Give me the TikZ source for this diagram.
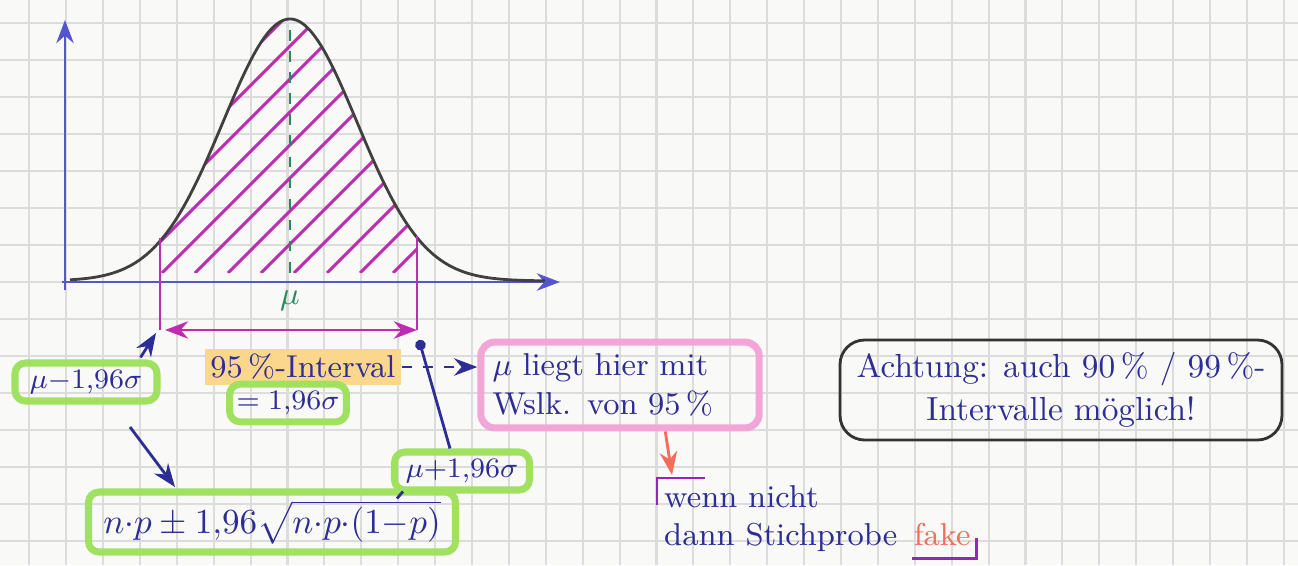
\documentclass[tikz,border=0pt]{standalone}
\usepackage{tikz}
\usetikzlibrary{calc,positioning,arrows.meta,shapes}
\definecolor{ink}{RGB}{45,45,150}
\definecolor{axisblue}{RGB}{85,85,205}
\definecolor{hlgreen}{RGB}{160,225,95}
\definecolor{hlpink}{RGB}{242,165,215}
\definecolor{hlorange}{RGB}{250,215,140}
\definecolor{hatchpink}{RGB}{190,45,175}
\definecolor{meangreen}{RGB}{40,140,90}
\definecolor{salmon}{RGB}{240,110,90}
\definecolor{gridgray}{RGB}{220,220,220}
\definecolor{paper}{RGB}{249,249,247}
\tikzset{
>=Stealth,
  greenbox/.style={
    rectangle,
    rounded corners=3pt,
    draw=hlgreen, line width=2pt,
    text=ink,
    font=\fontsize{8.5}{10}\selectfont,
    inner sep=2pt},
  pinkbox/.style={
    rectangle,
    rounded corners=4pt,
    draw=hlpink, line width=2pt,
    text=ink,
    align=left,
    font=\small,
    text width=2.55cm,
    minimum height=0.8cm},
  notebox/.style={
    rectangle,
    rounded corners=7pt,
    draw=black!80, thick,
    text=ink,
    align=center,
    font=\fontsize{9.5}{12}\selectfont,
    minimum width=4.42cm,
    minimum height=1cm},
  inkline/.style={draw=ink, thick},
  gridline/.style={gridgray, line width=0.6pt},
}

\begin{document}
\begin{tikzpicture}

\useasboundingbox[fill=paper] (0,0) rectangle (12.98,5.65);

% squared paper
\foreach \i in {0,...,34}
  \draw[gridline] ({0.292+0.369*\i},0) -- ++(0,5.65);
\foreach \j in {-8,...,7}
  \draw[gridline] (0,{2.83+0.37*\j}) -- ++(12.98,0);

% axes
\draw[axisblue, thick, ->] (0.62,2.83) -- (5.6,2.83);
\draw[axisblue, thick, ->] (0.65,2.75) -- (0.65,5.45);

% hatched 95% area
\begin{scope}
\clip plot[domain=1.60:4.17, samples=60, smooth]
  (\x, {2.84+2.62*exp(-((\x-2.9)^2)/(2*0.67^2))}) -- (4.17,2.92) -- (1.60,2.92) -- cycle;
\foreach \k in {0.3,0.63,...,4.3}
  \draw[hatchpink, line width=0.9pt] (\k,2.92) -- ++(3.2,3.2);
\end{scope}

% bell curve
\draw[black!75, thick] plot[domain=0.7:5.45, samples=90, smooth]
  (\x, {2.84+2.62*exp(-((\x-2.9)^2)/(2*0.67^2))});

% mean
\draw[meangreen, dashed] (2.9,5.35) -- (2.9,2.83);
\node[meangreen, font=\small] (mu) at (2.9,2.64) {$\mu$};

% interval bounds
\coordinate (lo) at (1.60,2.35);
\coordinate (hi) at (4.17,2.35);
\draw[hatchpink, thick] (1.60,3.27) -- (lo);
\draw[hatchpink, thick] (4.17,3.29) -- (hi);
\draw[hatchpink, thick, <->] ($(lo)+(0.05,0)$) -- (hi);

% labels
\node[greenbox, minimum width=1.42cm, minimum height=0.38cm] (muminus) at (0.86,1.83) {$\mu{-}1{,}96\sigma$};
\node[rectangle, fill=hlorange, text=ink, inner sep=1.5pt, font=\small] (interval) at (3.03,1.98) {95\,\%-Interval};
\node[greenbox, minimum width=1.0cm, minimum height=0.32cm] (sigma) at (2.88,1.62) {$=1{,}96\sigma$};
\node[pinkbox] (range) at (6.20,1.80) {$\mu$ liegt hier mit\\ Wslk. von 95\,\%};
\node[greenbox, minimum width=1.35cm, minimum height=0.38cm] (muplus) at (4.62,0.94) {$\mu{+}1{,}96\sigma$};
\node[greenbox, font=\normalsize, minimum width=3.67cm, minimum height=0.6cm] (formula) at (2.72,0.43)
  {$n{\cdot}p \pm 1{,}96\sqrt{n{\cdot}p{\cdot}(1{-}p)}$};
\node[notebox] (note) at (10.61,1.75) {Achtung: auch 90\,\% / 99\,\%-\\ Intervalle m\"oglich!};

\coordinate (brk) at (6.57,0.87);
\node[text=ink, align=left, font=\small, anchor=north west, inner sep=1pt] (wenn) at ($(brk)+(0.03,-0.03)$) {wenn nicht\\ dann Stichprobe};
\node[text=salmon, font=\small, anchor=base west, inner sep=1pt] (fake) at ($(wenn.base east)+(0.08,0)$) {fake};

% connectors
\draw[inkline, ->] ($(muminus.north east)+(-0.2,0.02)$) -- ($(lo)+(-0.04,-0.03)$);
\draw[inkline, ->] (1.30,1.38) -- (1.75,0.78);
\draw[inkline, -{Circle[length=3pt]}] ($(muplus.north)+(-0.12,0)$) -- ($(hi)+(0.02,-0.1)$);
\draw[inkline] ($(muplus.south west)+(0.12,0.02)$) -- ($(formula.north east)+(-0.62,-0.1)$);
\draw[inkline, dashed, ->] (interval.east) -- (range.west |- interval.east);
\draw[salmon, thick, ->] ($(range.south west)+(1.88,0)$) -- ($(brk)+(0.15,0.03)$);

% brackets
\draw[hatchpink!80!blue, thick] ($(brk)+(0,-0.27)$) -- (brk) -- ++(0.48,0);
\draw[hatchpink!80!blue, thick] ($(fake.south west)+(0.02,-0.08)$) -- ($(fake.south east)+(0.02,-0.08)$) -- ++(0,0.2);

\end{tikzpicture}
\end{document}
